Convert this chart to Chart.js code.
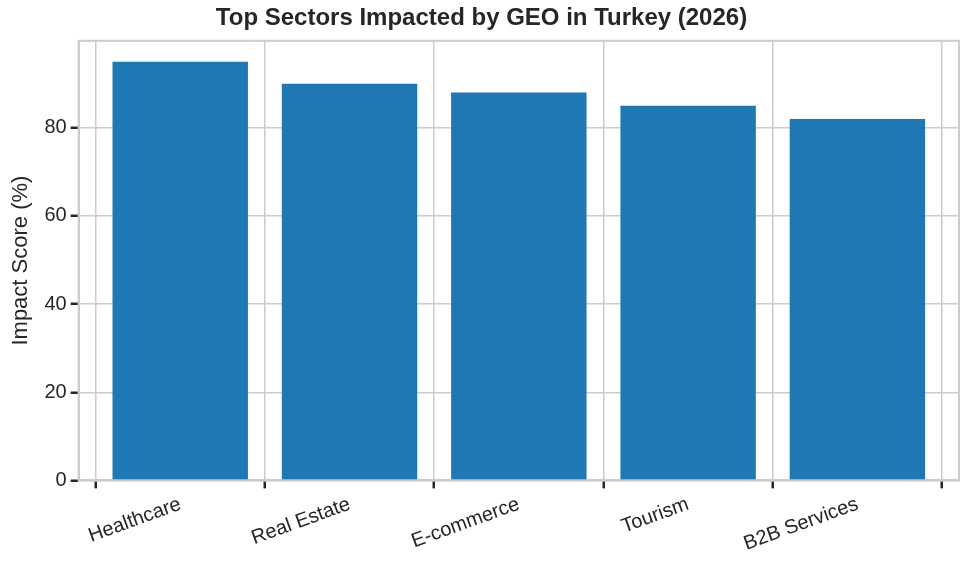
<!DOCTYPE html>
<html>
<head>
<meta charset="utf-8">
<script src="https://cdn.jsdelivr.net/npm/chart.js@4"></script>
<style>
  html, body { margin: 0; padding: 0; background: #fff; }
  #wrap { width: 966px; height: 566px; }
</style>
</head>
<body>
<div id="wrap"><canvas id="chart"></canvas></div>
<script>
const sectors = ['Healthcare', 'Real Estate', 'E-commerce', 'Tourism', 'B2B Services'];
const impactScores = [95, 90, 88, 85, 82];
const yTicks = [0, 20, 40, 60, 80];

// draw the box around the plot area like matplotlib's spines
const frame = {
  id: 'frame',
  afterDraw(chart) {
    const { ctx, chartArea: a } = chart;
    ctx.save();
    ctx.strokeStyle = '#cccccc';
    ctx.lineWidth = 2;
    ctx.strokeRect(a.left, a.top, a.right - a.left, a.bottom - a.top);
    ctx.restore();
  }
};

Chart.defaults.font.family = '"Liberation Sans", Arial, sans-serif';
Chart.defaults.color = '#262626';

new Chart(document.getElementById('chart').getContext('2d'), {
  type: 'bar',
  data: {
    datasets: [{
      data: impactScores.map((v, i) => ({ x: i, y: v })),
      backgroundColor: '#1f77b4',
      barPercentage: 0.8,
      categoryPercentage: 1.0
    }]
  },
  options: {
    responsive: true,
    maintainAspectRatio: false,
    animation: false,
    layout: { padding: { left: 4, right: 7, top: 4, bottom: 6 } },
    plugins: {
      legend: { display: false },
      tooltip: { enabled: false },
      title: {
        display: true,
        text: 'Top Sectors Impacted by GEO in Turkey (2026)',
        font: { size: 24 },
        color: '#262626',
        padding: { top: 0, bottom: 8 }
      }
    },
    scales: {
      x: {
        type: 'linear',
        min: -0.6,
        max: 4.6,
        offset: false,
        afterBuildTicks: (s) => { s.ticks = sectors.map((_, i) => ({ value: i })); },
        ticks: {
          callback: (v) => sectors[v],
          font: { size: 20 },
          minRotation: 20,
          maxRotation: 20,
          padding: 4
        },
        grid: { color: '#cccccc', lineWidth: 1.5, tickColor: '#262626', tickLength: 8, tickWidth: 2.5 },
        border: { color: '#cccccc', width: 2 }
      },
      y: {
        min: 0,
        max: 99.75,
        afterBuildTicks: (s) => { s.ticks = yTicks.map(v => ({ value: v })); },
        ticks: { font: { size: 20 }, padding: 4 },
        title: { display: true, text: 'Impact Score (%)', font: { size: 22 }, padding: { bottom: 6 } },
        grid: { color: '#cccccc', lineWidth: 1.5, tickColor: '#262626', tickLength: 8, tickWidth: 2.5 },
        border: { color: '#cccccc', width: 2 }
      }
    }
  },
  plugins: [frame]
});
</script>
</body>
</html>
